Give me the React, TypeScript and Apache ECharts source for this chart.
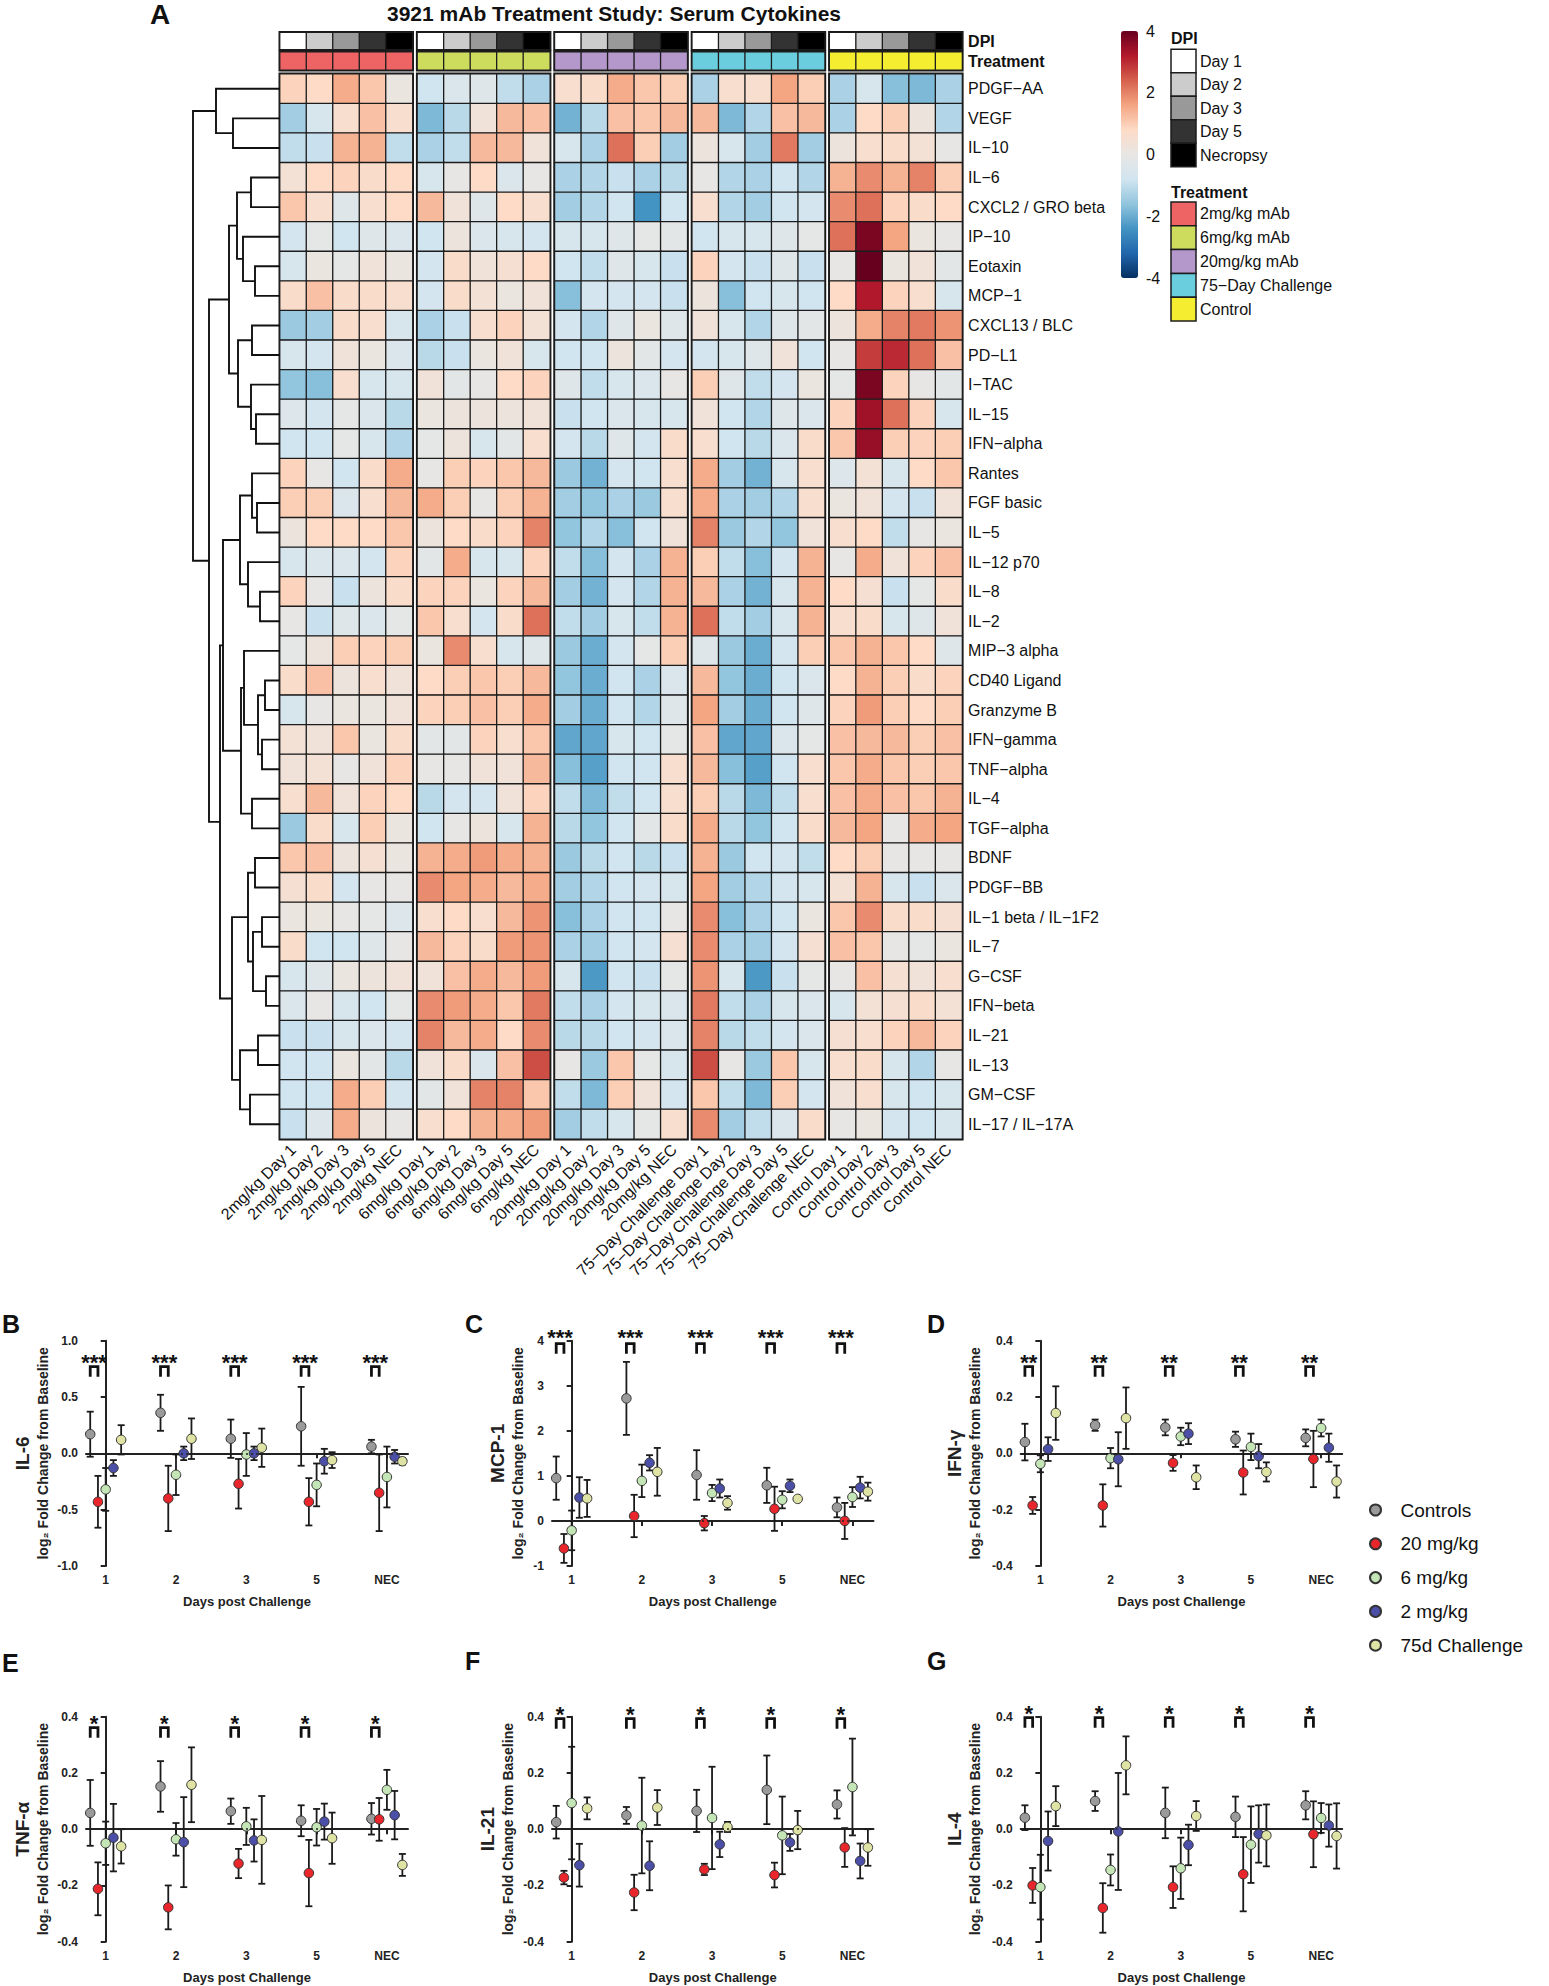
import React, { useEffect, useRef } from 'react';
import * as echarts from 'echarts';

const FONT = '"Liberation Sans", Arial, Helvetica, sans-serif';

// ---------------- Heatmap data ----------------
const rowNames = ['PDGF−AA', 'VEGF', 'IL−10', 'IL−6', 'CXCL2 / GRO beta', 'IP−10', 'Eotaxin', 'MCP−1', 'CXCL13 / BLC', 'PD−L1', 'I−TAC', 'IL−15', 'IFN−alpha', 'Rantes', 'FGF basic', 'IL−5', 'IL−12 p70', 'IL−8', 'IL−2', 'MIP−3 alpha', 'CD40 Ligand', 'Granzyme B', 'IFN−gamma', 'TNF−alpha', 'IL−4', 'TGF−alpha', 'BDNF', 'PDGF−BB', 'IL−1 beta / IL−1F2', 'IL−7', 'G−CSF', 'IFN−beta', 'IL−21', 'IL−13', 'GM−CSF', 'IL−17 / IL−17A'];
const groupNames = ['2mg/kg', '6mg/kg', '20mg/kg', '75−Day Challenge', 'Control'];
const dayCols = ['Day 1', 'Day 2', 'Day 3', 'Day 5', 'NEC'];
const dpiLegend = ['Day 1', 'Day 2', 'Day 3', 'Day 5', 'Necropsy'];
const dpiColors = ['#FFFFFF', '#CCCCCC', '#999999', '#333333', '#000000'];
const treatmentLegend = ['2mg/kg mAb', '6mg/kg mAb', '20mg/kg mAb', '75−Day Challenge', 'Control'];
const treatmentColors = ['#EE6364', '#CEDC5E', '#B497CB', '#6BCEDF', '#F5EE30'];
const heatPalette = ['#053061', '#2166AC', '#4393C3', '#92C5DE', '#D1E5F0', '#E8E6E4', '#FDDBC7', '#F4A582', '#D6604D', '#B2182B', '#67001F'];

const hm2mg = [
  [0.9, 0.8, 1.5, 1.1, 0.1], [-1.4, -0.6, 0.6, 1.2, 0.6], [-1.0, -0.9, 1.4, 1.4, -1.0], [0.4, 0.8, 0.9, 0.7, 0.8],
  [1.1, 0.6, -0.3, 0.6, 0.8], [-0.7, -0.1, -0.8, -0.3, -0.5], [-0.6, 0.1, -0.1, 0.3, 0.1], [0.7, 1.2, 0.7, 0.7, 0.6],
  [-1.5, -1.4, 0.7, 0.6, -0.6], [-0.6, -0.7, 0.3, 0.1, -0.5], [-1.6, -1.7, 0.6, -0.6, -0.6], [-0.4, -0.7, -0.1, -0.5, -1.1],
  [-0.8, -0.8, -0.1, -0.6, -1.2], [0.9, 0.0, -0.8, 0.7, 1.5], [1.0, 1.0, -0.5, 0.6, 1.3], [0.2, 0.8, 0.8, 0.8, 1.1],
  [-0.6, -0.5, -0.5, -0.7, 0.9], [0.9, 0.0, -0.9, 0.2, 0.7], [0.0, -0.9, -0.3, -0.5, -0.1], [-0.1, 0.2, 1.0, 0.9, 1.0],
  [0.7, 1.2, 0.2, 0.6, 0.3], [-0.6, 0.0, 0.1, 0.1, 0.3], [0.4, 0.3, 1.1, 0.1, 0.7], [0.3, 0.4, 0.0, 0.3, 0.9],
  [0.6, 1.3, 0.3, 0.9, 0.8], [-1.5, 0.7, -0.6, 1.0, 0.1], [1.1, 1.2, 0.2, 0.5, 0.1], [0.5, 0.7, -0.7, 0.0, 0.0],
  [0.1, 0.1, 0.0, -0.1, -0.4], [0.7, -0.8, -0.8, -0.3, 0.0], [-0.6, -0.3, 0.1, 0.2, 0.3], [-0.5, 0.0, -0.6, -0.8, -0.1],
  [-0.9, -0.9, -0.6, -0.5, -0.7], [-0.8, -0.8, 0.1, -0.2, -1.1], [-0.8, -0.8, 1.5, 1.0, -0.7], [-0.9, -0.4, 1.5, 0.2, 0.0],
];
const hm6mg = [
  [-0.8, -0.5, -0.3, -1.0, -1.3], [-1.8, -1.1, 0.3, 1.3, 1.2], [-1.3, -1.0, 1.3, 1.3, 0.3], [-0.6, 0.0, 0.8, -0.5, 0.0],
  [1.3, 0.3, -0.3, 0.8, 0.6], [-0.8, 0.2, -0.5, -0.6, -0.7], [-0.7, 0.7, 0.3, 0.5, 0.8], [-0.7, 0.7, 0.4, 0.1, 0.3],
  [-1.3, -0.9, 0.6, 0.9, 0.4], [-1.1, -0.9, 0.1, 0.3, -0.6], [0.3, -0.2, 0.0, 0.8, 0.9], [0.1, 0.2, 0.2, 0.2, 0.3],
  [-0.1, 0.2, -0.6, -0.2, 0.6], [0.0, 1.0, 0.9, 1.1, 1.3], [1.5, 1.0, 0.0, 1.0, 1.4], [0.2, 0.8, 0.7, 0.9, 2.0],
  [-0.2, 1.5, -0.6, -0.6, 0.9], [0.9, 0.9, 0.1, 0.9, 1.3], [1.1, 0.6, -0.7, 0.7, 2.2], [0.1, 1.9, 0.6, -0.6, -0.3],
  [0.8, 1.0, 1.1, 1.0, 1.3], [0.9, 1.0, 1.2, 1.0, 1.5], [-0.2, -0.2, 0.9, 0.6, 1.1], [0.0, 0.0, 0.3, 0.3, 1.3],
  [-1.1, -0.7, -0.7, 0.3, 0.9], [-0.8, 0.0, 0.2, -0.6, 1.4], [1.4, 1.5, 1.7, 1.5, 1.4], [1.9, 1.6, 1.5, 1.3, 1.5],
  [0.6, 0.8, 0.6, 1.3, 1.8], [1.3, 0.9, 0.7, 1.7, 1.8], [0.3, 1.2, 1.5, 1.3, 1.7], [1.9, 1.7, 1.5, 1.1, 2.1],
  [2.0, 1.3, 1.5, 0.8, 1.9], [0.3, 0.7, -0.5, 1.2, 2.6], [-0.2, 0.3, 2.0, 2.0, 1.1], [0.6, 0.8, 1.4, 1.5, 1.7],
];
const hm20mg = [
  [0.6, 0.7, 1.5, 1.1, 1.0], [-1.9, -1.1, 1.2, 1.1, 1.3], [-0.6, -1.3, 2.2, 1.0, -1.4], [-1.3, -1.2, -0.9, -1.3, -1.1],
  [-1.4, -1.2, -0.8, -2.4, -0.8], [-0.6, -0.6, -0.3, -0.1, -0.2], [-0.8, -1.0, -0.3, -0.6, -0.9], [-1.7, -0.7, -0.7, -0.7, -0.9],
  [-0.7, -1.2, -0.3, 0.1, -0.3], [-0.8, -0.8, 0.2, -0.2, -0.7], [-0.3, -1.0, -0.6, -0.5, 0.0], [-0.9, -0.8, -0.5, -0.6, -0.6],
  [-0.7, -1.1, -0.3, -0.7, 0.7], [-1.5, -1.9, -0.7, -0.8, 0.6], [-1.4, -1.6, -1.3, -1.5, 0.6], [-1.6, -1.2, -1.7, -0.8, 0.3],
  [-1.0, -1.7, -0.7, -1.3, 1.4], [-1.4, -1.9, -0.7, -1.2, 1.4], [-1.0, -1.4, -0.6, -1.0, 1.4], [-1.5, -2.0, -0.7, -0.1, 1.0],
  [-1.6, -2.0, -0.8, -1.3, -0.5], [-1.4, -2.0, -0.8, -1.2, -0.3], [-2.1, -2.1, -0.6, -0.8, -0.1], [-1.7, -2.2, -0.8, -0.8, 0.6],
  [-1.0, -1.8, -1.0, -0.8, 0.6], [-1.1, -1.6, -0.8, -0.2, 0.7], [-1.5, -1.1, -0.8, -1.1, -0.9], [-1.4, -1.2, -0.8, -0.7, -0.6],
  [-1.7, -1.3, -0.8, -0.8, 0.0], [-1.3, -1.4, -0.8, -0.7, 0.5], [-0.6, -2.3, -0.8, -0.9, -0.1], [-1.0, -1.3, -0.7, -0.6, -0.5],
  [-1.1, -1.1, -0.8, -0.7, -0.5], [0.0, -1.5, 1.1, -0.1, -0.6], [-1.0, -1.8, 1.0, 0.3, -0.7], [-1.4, -1.0, -0.6, -0.1, 0.6],
];
const hm75d = [
  [-1.3, 0.6, 0.6, 1.6, 1.0], [1.3, -1.8, -1.2, 1.2, 1.3], [0.2, -0.6, -1.4, 2.1, -1.4], [0.0, -1.2, -1.3, -0.8, -1.2],
  [0.6, -1.2, -1.4, -0.8, -0.7], [-0.8, -0.6, -0.6, -0.3, -0.1], [0.9, -0.7, -0.9, -0.3, -0.9], [0.2, -1.7, -0.8, -0.6, -0.8],
  [0.3, -0.6, -1.2, -0.3, -0.2], [-0.7, -0.6, -0.3, 0.3, -0.8], [1.0, -0.3, -1.0, -0.7, 0.1], [0.3, -0.8, -1.2, -0.3, -0.5],
  [0.6, -0.8, -1.1, -0.5, 0.7], [1.5, -1.4, -1.9, -0.6, 0.6], [1.5, -1.3, -1.4, -1.2, 0.6], [2.0, -1.5, -1.2, -1.6, 0.3],
  [1.0, -1.0, -1.7, -0.7, 1.4], [1.3, -1.3, -1.9, -0.6, 1.4], [2.2, -1.0, -1.4, -0.6, 1.4], [-0.3, -1.5, -2.0, -0.7, 1.0],
  [1.3, -1.6, -2.0, -0.8, -0.5], [1.6, -1.4, -2.0, -0.8, -0.3], [1.2, -2.1, -2.1, -0.5, -0.1], [1.3, -1.7, -2.2, -0.8, 0.6],
  [1.0, -1.1, -1.8, -1.0, 0.6], [1.5, -1.1, -1.6, -0.8, 0.7], [1.4, -1.5, -0.8, -0.7, -1.0], [1.6, -1.4, -1.2, -0.7, -0.6],
  [1.9, -1.7, -1.3, -0.8, 0.1], [1.9, -1.3, -1.4, -0.7, 0.5], [1.8, -0.6, -2.3, -0.9, -0.1], [2.1, -1.0, -1.3, -0.6, -0.5],
  [2.0, -1.1, -1.0, -0.7, -0.5], [2.6, 0.0, -1.5, 1.1, -0.6], [1.1, -1.0, -1.8, 1.0, -0.7], [1.9, -1.4, -1.0, -0.5, 0.7],
];
const hmCtrl = [
  [-1.3, -0.6, -1.7, -1.8, -1.3], [-1.3, 0.8, 1.0, 0.2, -1.2], [0.2, 0.6, 0.7, 0.4, 0.0], [1.4, 1.9, 1.4, 2.0, 1.0],
  [1.9, 2.2, 0.9, 0.7, 0.8], [2.2, 3.8, 1.6, 0.1, 0.0], [0.0, 4.0, 0.1, 0.3, -0.2], [0.8, 3.2, 0.9, 0.6, -0.6],
  [0.2, 1.5, 2.0, 2.1, 1.8], [0.0, 2.8, 3.0, 2.2, 1.2], [-0.1, 3.8, 0.9, 0.0, -0.2], [0.9, 3.4, 2.2, 0.9, -0.6],
  [1.1, 3.5, 1.0, 0.9, 1.0], [-0.4, 0.4, -0.6, 0.8, 1.1], [0.1, 0.3, -0.7, -0.9, 0.3], [0.6, 0.8, -1.0, 0.0, 0.1],
  [0.0, 1.5, 0.3, 0.9, 1.2], [0.8, 0.5, -0.9, -0.1, 0.7], [0.6, 0.7, -0.6, -0.3, 0.3], [1.1, 1.4, 1.1, 0.8, -0.3],
  [0.8, 1.4, 1.0, 0.7, 0.9], [0.9, 1.7, 1.0, 0.8, 1.0], [1.2, 1.3, 1.3, 1.0, 1.2], [1.1, 1.5, 1.1, 1.0, 1.1],
  [1.2, 1.5, 1.2, 1.1, 1.4], [1.3, 1.6, 0.0, 1.5, 1.6], [0.8, 1.0, 0.0, 0.0, 0.0], [0.4, 1.4, -0.6, -0.9, -0.5],
  [1.1, 1.9, 0.7, 0.7, 0.5], [1.2, 1.1, 0.0, -0.1, 0.1], [0.0, 1.2, 0.5, 0.3, 0.6], [-0.6, 0.4, 0.5, 0.7, 0.4],
  [0.5, 0.6, 0.9, 1.3, 0.9], [0.6, 0.7, -0.6, -1.2, 0.0], [0.3, 0.6, -0.6, -0.8, -0.6], [0.0, 0.1, -0.7, -0.8, -0.6],
];

// hclust-style merges: [a, b, height]; negative = leaf (row), positive = earlier merge (1-based)
const dendroMerges = [
  [-2, -3, 47], [-1, 1, 64], [-4, -5, 29], [-7, -8, 25], [-6, 4, 37], [3, 5, 43], [-9, -10, 28], [-12, -13, 24],
  [-11, 8, 29], [7, 9, 42], [6, 10, 51], [-15, -16, 23], [-14, 12, 28], [-18, -19, 20], [-17, 14, 32], [13, 15, 40],
  [-21, -22, 15], [-23, -24, 18], [17, 18, 22], [-20, 19, 36], [-25, -26, 28], [20, 21, 39], [16, 22, 57],
  [-27, -28, 25], [-29, -30, 18], [-31, -32, 14], [25, 26, 27], [24, 27, 32], [-33, -34, 22], [-35, -36, 30],
  [29, 30, 40], [28, 31, 48], [23, 32, 60], [11, 33, 71], [2, 34, 87],
];

// ---------------- Scatter panel data ----------------
const scatterNames = ['Controls', '20 mg/kg', '6 mg/kg', '2 mg/kg', '75d Challenge'];
const scatterColors = ['#9A9A9A', '#E8262B', '#C4E5B6', '#4B4FA8', '#DFE4A4'];
const dayLabels = ['1', '2', '3', '5', 'NEC'];

const il6Mean = [[0.17, 0.36, 0.13, 0.24, 0.06], [-0.43, -0.40, -0.27, -0.43, -0.35], [-0.32, -0.19, -0.01, -0.28, -0.21], [-0.13, 0.0, 0.0, -0.07, -0.03], [0.12, 0.13, 0.05, -0.06, -0.07]];
const il6Err = [[0.20, 0.16, 0.17, 0.35, 0.06], [0.23, 0.29, 0.22, 0.21, 0.34], [0.19, 0.18, 0.19, 0.19, 0.27], [0.07, 0.06, 0.06, 0.11, 0.06], [0.13, 0.18, 0.17, 0.07, 0.03]];
const mcp1Mean = [[0.95, 2.72, 1.02, 0.79, 0.30], [-0.61, 0.11, -0.05, 0.27, 0.0], [-0.21, 0.89, 0.62, 0.47, 0.53], [0.52, 1.29, 0.72, 0.78, 0.74], [0.50, 1.09, 0.40, 0.49, 0.65]];
const mcp1Err = [[0.48, 0.81, 0.55, 0.39, 0.22], [0.32, 0.47, 0.16, 0.49, 0.40], [0.44, 0.36, 0.18, 0.19, 0.22], [0.45, 0.17, 0.20, 0.14, 0.24], [0.41, 0.53, 0.15, 0.0, 0.20]];
const ifngMean = [[0.04, 0.10, 0.092, 0.05, 0.055], [-0.185, -0.185, -0.034, -0.068, -0.02], [-0.037, -0.017, 0.06, 0.023, 0.09], [0.015, -0.021, 0.07, -0.01, 0.02], [0.143, 0.125, -0.085, -0.066, -0.10]];
const ifngErr = [[0.065, 0.02, 0.028, 0.027, 0.03], [0.03, 0.075, 0.028, 0.078, 0.10], [0.03, 0.036, 0.031, 0.047, 0.03], [0.042, 0.096, 0.037, 0.043, 0.05], [0.095, 0.109, 0.042, 0.034, 0.057]];
const tnfaMean = [[0.058, 0.152, 0.064, 0.03, 0.037], [-0.212, -0.278, -0.122, -0.156, 0.035], [-0.05, -0.036, 0.01, 0.007, 0.14], [-0.03, -0.046, -0.04, 0.027, 0.05], [-0.061, 0.158, -0.038, -0.032, -0.127]];
const tnfaErr = [[0.117, 0.09, 0.045, 0.055, 0.056], [0.094, 0.078, 0.052, 0.118, 0.076], [0.077, 0.058, 0.066, 0.065, 0.071], [0.12, 0.16, 0.075, 0.064, 0.086], [0.061, 0.133, 0.156, 0.091, 0.039]];
const il21Mean = [[0.025, 0.049, 0.065, 0.14, 0.088], [-0.172, -0.225, -0.143, -0.163, -0.065], [0.093, 0.013, 0.04, -0.022, 0.15], [-0.128, -0.13, -0.054, -0.047, -0.113], [0.074, 0.077, 0.008, -0.003, -0.065]];
const il21Err = [[0.058, 0.03, 0.075, 0.122, 0.05], [0.024, 0.063, 0.02, 0.044, 0.069], [0.2, 0.17, 0.182, 0.138, 0.172], [0.076, 0.087, 0.045, 0.03, 0.062], [0.039, 0.062, 0.018, 0.068, 0.065]];
const il4Mean = [[0.041, 0.1, 0.058, 0.044, 0.085], [-0.2, -0.28, -0.206, -0.16, -0.018], [-0.206, -0.145, -0.139, -0.055, 0.04], [-0.042, -0.008, -0.056, -0.017, 0.013], [0.082, 0.227, 0.047, -0.022, -0.024]];
const il4Err = [[0.044, 0.035, 0.09, 0.072, 0.05], [0.062, 0.088, 0.074, 0.132, 0.117], [0.115, 0.055, 0.109, 0.136, 0.053], [0.105, 0.208, 0.072, 0.102, 0.075], [0.071, 0.103, 0.053, 0.11, 0.116]];

const panelLetters = ['B', 'C', 'D', 'E', 'F', 'G'];
const panelTitles = ['IL-6', 'MCP-1', 'IFN-γ', 'TNF-α', 'IL-21', 'IL-4'];
const panelMeans = [il6Mean, mcp1Mean, ifngMean, tnfaMean, il21Mean, il4Mean];
const panelErrs = [il6Err, mcp1Err, ifngErr, tnfaErr, il21Err, il4Err];
const panelStars = ['***', '***', '**', '*', '*', '*'];
const panelRanges = [[-1, 1, 0.5, 1], [-1, 4, 1, 0], [-0.4, 0.4, 0.2, 1], [-0.4, 0.4, 0.2, 1], [-0.4, 0.4, 0.2, 1], [-0.4, 0.4, 0.2, 1]];

// layout only (pixels)
const panelLayout = [
  { left: 86, top: 1340.7, w: 322, h: 225.3, gap: 35, star: 16, br: 26, lx: 2, ly: 1324 },
  { left: 552, top: 1340.7, w: 321.5, h: 225.3, gap: 26, star: -9, br: 3, lx: 465, ly: 1324 },
  { left: 1020.7, top: 1340.7, w: 321.5, h: 225.3, gap: 37, star: 16, br: 26, lx: 927, ly: 1324 },
  { left: 86, top: 1716.7, w: 322, h: 225, gap: 35, star: 1, br: 11, lx: 2, ly: 1663 },
  { left: 552, top: 1716.7, w: 321.5, h: 225, gap: 36, star: -8, br: 2, lx: 465, ly: 1661 },
  { left: 1020.7, top: 1716.7, w: 321.5, h: 225, gap: 37, star: -9, br: 1, lx: 927, ly: 1661 },
];
const groupOffsets = [-0.22, -0.11, 0, 0.11, 0.22];

function buildOption() {
  const grid: any[] = [];
  const xAxis: any[] = [];
  const yAxis: any[] = [];
  const series: any[] = [];
  const graphic: any[] = [];
  const addGrid = (g: any, xa: any, ya: any) => {
    const gi = grid.length;
    grid.push({ containLabel: false, ...g });
    xAxis.push({ gridIndex: gi, ...xa });
    yAxis.push({ gridIndex: gi, ...ya });
    return gi;
  };
  const noAxis = { axisLine: { show: false }, axisTick: { show: false }, splitLine: { show: false } };

  // ---------- Heatmap ----------
  const matrices = [hm2mg, hm6mg, hm20mg, hm75d, hmCtrl];
  const HM_LEFT = 280, GROUP_W = 132.5, GROUP_STEP = 137.4, HM_TOP = 74, HM_H = 1065;
  const ann = [{ top: 32.5, h: 17, name: 'DPI' }, { top: 52, h: 18, name: 'Treatment' }];
  const frame = { show: true, borderColor: '#161616', borderWidth: 3, backgroundColor: 'transparent' };
  const heatIdx: number[] = [];
  const annIdx: number[] = [];
  const cellStyle = { borderColor: '#1c1c1c', borderWidth: 1.3 };

  groupNames.forEach((gname, g) => {
    const left = HM_LEFT + g * GROUP_STEP;
    const last = g === groupNames.length - 1;
    ann.forEach((a, ai) => {
      const gi = addGrid({ left, top: a.top, width: GROUP_W, height: a.h, ...frame },
        { type: 'category', data: dayCols, show: false },
        {
          type: 'category', data: [a.name], position: 'right', ...noAxis,
          axisLabel: { show: last, fontSize: 16, fontWeight: 'bold', color: '#111', fontFamily: FONT, margin: 6 },
        });
      annIdx.push(series.length);
      series.push({
        type: 'heatmap', xAxisIndex: gi, yAxisIndex: gi,
        data: dayCols.map((_, c) => [c, 0, ai === 0 ? c : 10 + g]),
        itemStyle: cellStyle, emphasis: { disabled: true },
      });
    });
    const gi = addGrid({ left, top: HM_TOP, width: GROUP_W, height: HM_H, ...frame },
      {
        type: 'category', data: dayCols.map((d) => `${gname} ${d}`), position: 'bottom', ...noAxis,
        axisLabel: { interval: 0, rotate: 45, fontSize: 16, color: '#111', fontFamily: FONT, margin: 8 },
      },
      {
        type: 'category', data: rowNames, inverse: true, position: 'right', ...noAxis,
        axisLabel: { show: last, interval: 0, fontSize: 16, color: '#111', fontFamily: FONT, margin: 6 },
      });
    heatIdx.push(series.length);
    const data: any[] = [];
    matrices[g].forEach((row, r) => row.forEach((v, c) => data.push([c, r, v])));
    series.push({ type: 'heatmap', xAxisIndex: gi, yAxisIndex: gi, data, itemStyle: cellStyle, emphasis: { disabled: true } });
  });

  // ---------- Dendrogram ----------
  const nodeY: number[] = [];
  const nodeH: number[] = [];
  const segs = dendroMerges.map(([a, b, h], k) => {
    const ya = a < 0 ? -a - 1 : nodeY[a - 1];
    const ha = a < 0 ? 0 : nodeH[a - 1];
    const yb = b < 0 ? -b - 1 : nodeY[b - 1];
    const hb = b < 0 ? 0 : nodeH[b - 1];
    nodeY[k] = (ya + yb) / 2;
    nodeH[k] = h;
    return [ha, ya, hb, yb, h];
  });
  const dg = addGrid({ left: 190, top: HM_TOP, width: 90, height: HM_H },
    { type: 'value', min: 0, max: 90, inverse: true, show: false },
    { type: 'value', min: -0.5, max: 35.5, inverse: true, show: false });
  series.push({
    type: 'custom', xAxisIndex: dg, yAxisIndex: dg, data: segs, silent: true,
    renderItem: (_p: any, api: any) => {
      const a = api.coord([api.value(0), api.value(1)]);
      const b = api.coord([api.value(4), api.value(1)]);
      const c = api.coord([api.value(4), api.value(3)]);
      const d = api.coord([api.value(2), api.value(3)]);
      return { type: 'polyline', shape: { points: [a, b, c, d] }, style: { stroke: '#111', lineWidth: 1.9, fill: null } };
    },
  });

  // ---------- Colorbar tick axis ----------
  const cb = addGrid({ left: 1121, top: 31, width: 17, height: 247 },
    { type: 'value', min: 0, max: 1, show: false },
    {
      type: 'value', min: -4, max: 4, interval: 2, position: 'right', ...noAxis,
      axisLabel: { fontSize: 16, color: '#111', fontFamily: FONT, margin: 8, showMinLabel: true, showMaxLabel: true },
    });
  series.push({ type: 'scatter', xAxisIndex: cb, yAxisIndex: cb, data: [], silent: true });

  // ---------- Title / annotations legend ----------
  const txt = (x: number, y: number, text: string, size: number, weight: string, align = 'left') => ({
    type: 'text', x, y, silent: true,
    style: {
      text, fontSize: size, fontWeight: weight, fontFamily: FONT, fill: '#111',
      align, verticalAlign: 'middle', textAlign: align, textVerticalAlign: 'middle',
    },
  });
  graphic.push(txt(150, 14, 'A', 28, 'bold'));
  graphic.push(txt(614, 13, '3921 mAb Treatment Study: Serum Cytokines', 21, 'bold', 'center'));
  graphic.push(txt(1171, 38, 'DPI', 16, 'bold'));
  dpiLegend.forEach((name, i) => {
    const y = 49.3 + i * 23.5;
    graphic.push({ type: 'rect', shape: { x: 1171, y, width: 25, height: 23.5 }, style: { fill: dpiColors[i], stroke: '#1c1c1c', lineWidth: 1.5 } });
    graphic.push(txt(1200, y + 11.75, name, 16, 'normal'));
  });
  graphic.push(txt(1171, 192, 'Treatment', 16, 'bold'));
  treatmentLegend.forEach((name, i) => {
    const y = 202 + i * 23.8;
    graphic.push({ type: 'rect', shape: { x: 1171, y, width: 25, height: 23.8 }, style: { fill: treatmentColors[i], stroke: '#1c1c1c', lineWidth: 1.5 } });
    graphic.push(txt(1200, y + 11.9, name, 16, 'normal'));
  });

  // ---------- Scatter panels ----------
  panelLetters.forEach((letter, p) => {
    const L = panelLayout[p];
    const [ymin, ymax, yint, dec] = panelRanges[p];
    graphic.push(txt(L.lx, L.ly, letter, 25, 'bold'));
    const gi = addGrid({ left: L.left, top: L.top, width: L.w, height: L.h },
      {
        type: 'value', min: -0.28, max: 4.3,
        axisLine: { show: true, lineStyle: { color: '#222', width: 2 } },
        axisTick: { show: true, customValues: [0, 1, 2, 3, 4], length: 5, lineStyle: { color: '#222', width: 2 } },
        splitLine: { show: false },
        axisLabel: {
          customValues: [0, 1, 2, 3, 4], formatter: (v: number) => dayLabels[Math.round(v)] ?? '',
          fontSize: 12, fontWeight: 'bold', color: '#222', fontFamily: FONT, margin: 8,
        },
        name: 'Days post Challenge', nameLocation: 'middle', nameGap: 29,
        nameTextStyle: { fontSize: 13, fontWeight: 'bold', color: '#222', fontFamily: FONT },
      },
      {
        type: 'value', min: ymin, max: ymax, interval: yint,
        axisLine: { show: true, lineStyle: { color: '#222', width: 2 } },
        axisTick: { show: true, length: 5, lineStyle: { color: '#222', width: 2 } },
        splitLine: { show: false },
        axisLabel: {
          formatter: (v: number) => v.toFixed(dec), fontSize: 12, fontWeight: 'bold', color: '#222', fontFamily: FONT, margin: 8,
          showMinLabel: true, showMaxLabel: true,
        },
        name: `{t|${panelTitles[p]}}\n{s|log₂ Fold Change from Baseline}`,
        nameLocation: 'middle', nameRotate: 90, nameGap: L.gap,
        nameTextStyle: {
          color: '#222', fontFamily: FONT,
          rich: {
            t: { fontSize: 19, fontWeight: 'bold', lineHeight: 24, fontFamily: FONT, color: '#222' },
            s: { fontSize: 14, fontWeight: 'bold', lineHeight: 17, fontFamily: FONT, color: '#222' },
          },
        },
      });
    const means = panelMeans[p];
    const errs = panelErrs[p];
    const ebData: any[] = [];
    means.forEach((row, k) => row.forEach((m, i) => ebData.push([i + groupOffsets[k], m, errs[k][i]])));
    series.push({
      type: 'custom', xAxisIndex: gi, yAxisIndex: gi, data: ebData, silent: true, z: 3,
      renderItem: (_pp: any, api: any) => {
        const x = api.value(0), m = api.value(1), e = api.value(2);
        if (!e) return { type: 'group', children: [] };
        const t = api.coord([x, m + e]);
        const b = api.coord([x, m - e]);
        const st = { stroke: '#1a1a1a', lineWidth: 1.8 };
        return {
          type: 'group', children: [
            { type: 'line', shape: { x1: t[0], y1: t[1], x2: b[0], y2: b[1] }, style: st },
            { type: 'line', shape: { x1: t[0] - 3.5, y1: t[1], x2: t[0] + 3.5, y2: t[1] }, style: st },
            { type: 'line', shape: { x1: b[0] - 3.5, y1: b[1], x2: b[0] + 3.5, y2: b[1] }, style: st },
          ],
        };
      },
      markLine: {
        silent: true, symbol: 'none', label: { show: false },
        lineStyle: { type: [2, 3], color: '#222', width: 1.6 },
        data: [{ yAxis: 0 }],
      },
    });
    scatterNames.forEach((name, k) => {
      series.push({
        type: 'scatter', name, xAxisIndex: gi, yAxisIndex: gi, symbol: 'circle', symbolSize: 9.5, z: 4,
        itemStyle: { color: scatterColors[k], borderColor: '#333', borderWidth: 1, opacity: 1 },
        emphasis: { disabled: true },
        data: means[k].map((v, i) => [i + groupOffsets[k], v]),
      });
    });
    series.push({
      type: 'custom', xAxisIndex: gi, yAxisIndex: gi, silent: true, z: 5,
      data: dayLabels.map((_, i) => [i, 0]),
      renderItem: (pp: any, api: any) => {
        const i = api.value(0);
        const cs = pp.coordSys;
        const x0 = api.coord([i + groupOffsets[0], 0])[0];
        const x1 = api.coord([i + groupOffsets[1], 0])[0];
        const yt = cs.y + L.br;
        const yb = yt + 10;
        return {
          type: 'group', children: [
            { type: 'polyline', shape: { points: [[x0, yb], [x0, yt], [x1, yt], [x1, yb]] }, style: { stroke: '#111', lineWidth: 2.8, fill: null } },
            {
              type: 'text', x: (x0 + x1) / 2, y: cs.y + L.star + 5.5,
              style: { text: panelStars[p], fontSize: 22, fontWeight: 'bold', fontFamily: FONT, fill: '#111', align: 'center', verticalAlign: 'middle' },
            },
          ],
        };
      },
    });
  });

  return {
    animation: false,
    backgroundColor: '#ffffff',
    textStyle: { fontFamily: FONT },
    grid, xAxis, yAxis, series, graphic,
    visualMap: [
      {
        type: 'continuous', min: -4, max: 4, seriesIndex: heatIdx, dimension: 2,
        inRange: { color: heatPalette }, calculable: false, show: true, orient: 'vertical',
        left: 1121, top: 31, itemWidth: 17, itemHeight: 247, padding: 0, text: ['', ''], textGap: 0,
        hoverLink: false,
      },
      {
        type: 'piecewise', show: false, seriesIndex: annIdx, dimension: 2,
        pieces: [
          ...dpiColors.map((color, i) => ({ value: i, color })),
          ...treatmentColors.map((color, i) => ({ value: 10 + i, color })),
        ],
      },
    ],
    legend: {
      data: scatterNames, orient: 'vertical', left: 1369, top: 1500, padding: 0,
      itemWidth: 40, itemHeight: 11, itemGap: 13.8, icon: 'circle', selectedMode: false,
      textStyle: { fontSize: 19, color: '#111', fontFamily: FONT, lineHeight: 20 },
    },
  };
}

export default function App() {
  const ref = useRef<HTMLDivElement | null>(null);
  useEffect(() => {
    if (!ref.current) return;
    const chart = echarts.init(ref.current, null, { renderer: 'svg' });
    chart.setOption(buildOption() as any);
    return () => {
      chart.dispose();
    };
  }, []);
  return <div ref={ref} style={{ position: 'absolute', left: 0, top: 0, width: 1549, height: 1986, background: '#ffffff' }} />;
}
